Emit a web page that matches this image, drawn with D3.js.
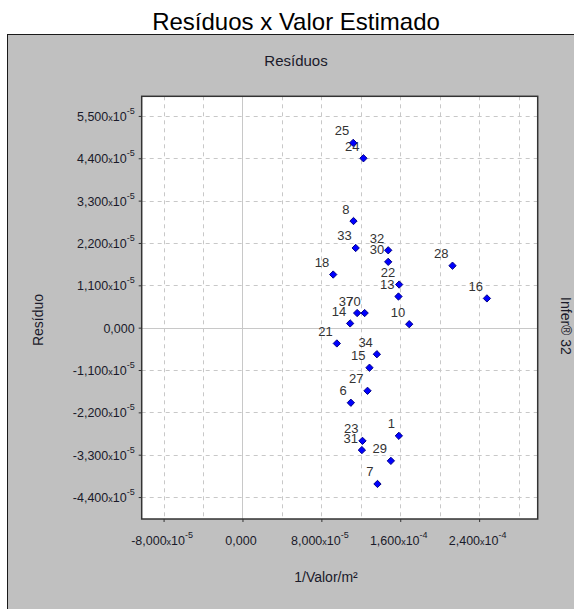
<!DOCTYPE html>
<html>
<head>
<meta charset="utf-8">
<script src="https://cdn.jsdelivr.net/npm/d3@7"></script>
<style>
body { margin: 0; background: #fff; }
text { font-family: Arial, "Liberation Sans", sans-serif; }
</style>
</head>
<body>
<svg width="574" height="609"></svg>
<script>
// Dados (valores em unidades de 1e-5)
var rotulos = ["25","24","8","33","32","30","18","22","13","28","16","37","70","14","10","21","34","15","27","6","1","23","31","29","7"];
var valorX = [11.23,12.27,11.26,11.48,14.78,14.78,9.20,15.89,15.82,21.30,24.79,11.63,12.39,10.92,16.91,9.57,13.63,12.88,12.68,10.99,15.86,12.17,12.11,15.05,13.69];
var residuo = [4.80,4.40,2.77,2.07,2.01,1.71,1.38,1.12,0.81,1.61,0.76,0.38,0.38,0.11,0.09,-0.41,-0.69,-1.04,-1.64,-1.95,-2.81,-2.94,-3.18,-3.46,-4.06];

var xTicks = [-8e-5, 0, 8e-5, 16e-5, 24e-5];
var xGrid = [-8e-5,-4e-5,0,4e-5,8e-5,12e-5,16e-5,20e-5,24e-5,28e-5];
var yTicks = [-4.4e-5,-3.3e-5,-2.2e-5,-1.1e-5,0,1.1e-5,2.2e-5,3.3e-5,4.4e-5,5.5e-5];

var dataset = rotulos.map(function(r, i) {
    return {nome: r, x: valorX[i] * 1e-5, y: residuo[i] * 1e-5};
});

var plot = {left: 141.7, right: 537.7, top: 96.3, bottom: 519};

var svg = d3.select('svg');

// Titulo
svg.append('text')
    .attr('x', 296).attr('y', 30)
    .attr('text-anchor', 'middle')
    .style('font-size', '24px')
    .text('Resíduos x Valor Estimado');

// painel cinza
svg.append('rect')
    .attr('x', 7.5).attr('y', 34.5)
    .attr('width', 620).attr('height', 620)
    .attr('fill', '#c0c0c0')
    .attr('stroke', '#1a1a1a');

svg.append('text')
    .attr('x', 296).attr('y', 66)
    .attr('text-anchor', 'middle')
    .style('font-size', '15px')
    .attr('fill', '#1a1a2a')
    .text('Resíduos');

//Escalas
var xScale = d3.scaleLinear().domain([-10.22e-5, 29.94e-5]).range([plot.left, plot.right]);
var yScale = d3.scaleLinear().domain([-4.97e-5, 6.01e-5]).range([plot.bottom, plot.top]);

svg.append('rect')
    .attr('x', plot.left).attr('y', plot.top)
    .attr('width', plot.right - plot.left).attr('height', plot.bottom - plot.top)
    .attr('fill', '#fff');

// grade
svg.append('g').selectAll('line')
    .data(xGrid)
    .enter()
    .append('line')
    .attr('x1', d => Math.round(xScale(d)) + 0.5).attr('x2', d => Math.round(xScale(d)) + 0.5)
    .attr('y1', plot.top).attr('y2', plot.bottom)
    .attr('stroke', '#c8c8c8')
    .attr('stroke-dasharray', d => d == 0 ? null : '4,4');

svg.append('g').selectAll('line')
    .data(yTicks)
    .enter()
    .append('line')
    .attr('y1', d => Math.round(yScale(d)) + 0.5).attr('y2', d => Math.round(yScale(d)) + 0.5)
    .attr('x1', plot.left).attr('x2', plot.right)
    .attr('stroke', '#c8c8c8')
    .attr('stroke-dasharray', d => d == 0 ? null : '4,4');

svg.append('rect')
    .attr('x', plot.left).attr('y', plot.top)
    .attr('width', plot.right - plot.left).attr('height', plot.bottom - plot.top)
    .attr('fill', 'none')
    .attr('stroke', '#333')
    .attr('stroke-width', 1.5);

// formato 5,500x10^-5
function partes(v) {
    if (v == 0) return {m: '0,000', e: null};
    var e = Math.floor(Math.log10(Math.abs(v)) + 1e-9);
    var m = (v / Math.pow(10, e)).toFixed(3).replace('.', ',');
    return {m: m, e: String(e)};
}

function rotulo(sel, v) {
    var p = partes(v);
    sel.append('tspan').text(p.m);
    if (p.e != null) {
        sel.append('tspan').style('font-size', '9px').text('x');
        sel.append('tspan').text('10');
        sel.append('tspan').style('font-size', '9px').attr('dy', -7).text(p.e);
    }
}

var xAxisGroup = svg.append('g')
    .attr('class', 'xAxis')
    .attr('transform', 'translate(0,' + plot.bottom + ')');
var xAxis = d3.axisBottom(xScale).tickValues(xTicks).tickSize(3).tickFormat('');
xAxisGroup.call(xAxis);
xAxisGroup.select('.domain').remove();
xAxisGroup.selectAll('.tick line').attr('stroke', '#333');
xAxisGroup.selectAll('.tick').each(function(d) {
    d3.select(this).append('text')
        .attr('x', -2).attr('y', 25.5)
        .attr('text-anchor', 'middle')
        .attr('fill', '#1a1a2a')
        .style('font-size', '12.5px')
        .call(rotulo, d);
});

var yAxisGroup = svg.append('g')
    .attr('class', 'yAxis')
    .attr('transform', 'translate(' + plot.left + ',0)');
var yAxis = d3.axisLeft(yScale).tickValues(yTicks).tickSize(3).tickFormat('');
yAxisGroup.call(yAxis);
yAxisGroup.select('.domain').remove();
yAxisGroup.selectAll('.tick line').attr('stroke', '#333');
yAxisGroup.selectAll('.tick').each(function(d) {
    d3.select(this).append('text')
        .attr('x', -7).attr('y', 4.5)
        .attr('text-anchor', 'end')
        .attr('fill', '#1a1a2a')
        .style('font-size', '12.5px')
        .call(rotulo, d);
});

// titulos dos eixos
svg.append('text')
    .attr('x', 326).attr('y', 582)
    .attr('text-anchor', 'middle')
    .attr('fill', '#1a1a2a')
    .style('font-size', '14px')
    .text('1/Valor/m²');

svg.append('text')
    .attr('transform', 'translate(43,320) rotate(-90)')
    .attr('text-anchor', 'middle')
    .attr('fill', '#1a1a2a')
    .style('font-size', '14px')
    .text('Resíduo');

svg.append('text')
    .attr('transform', 'translate(561,326) rotate(90)')
    .attr('text-anchor', 'middle')
    .attr('fill', '#1a1a2a')
    .style('font-size', '14px')
    .text('Infer® 32');

//scatterplots
var pontos = svg.append('g');

pontos.selectAll('text')
    .data(dataset)
    .enter()
    .append('text')
    .attr('x', d => xScale(d.x) - 4)
    .attr('y', d => yScale(d.y) - 7.5)
    .attr('text-anchor', 'end')
    .attr('fill', '#333')
    .style('font-size', '13px')
    .text(d => d.nome);

pontos.selectAll('path')
    .data(dataset)
    .enter()
    .append('path')
    .attr('transform', d => 'translate(' + xScale(d.x) + ',' + yScale(d.y) + ')')
    .attr('d', d3.symbol().type(d3.symbolDiamond2).size(34))
    .attr('fill', '#0000ff')
    .attr('stroke', '#000088')
    .attr('stroke-width', 1);
</script>
</body>
</html>
